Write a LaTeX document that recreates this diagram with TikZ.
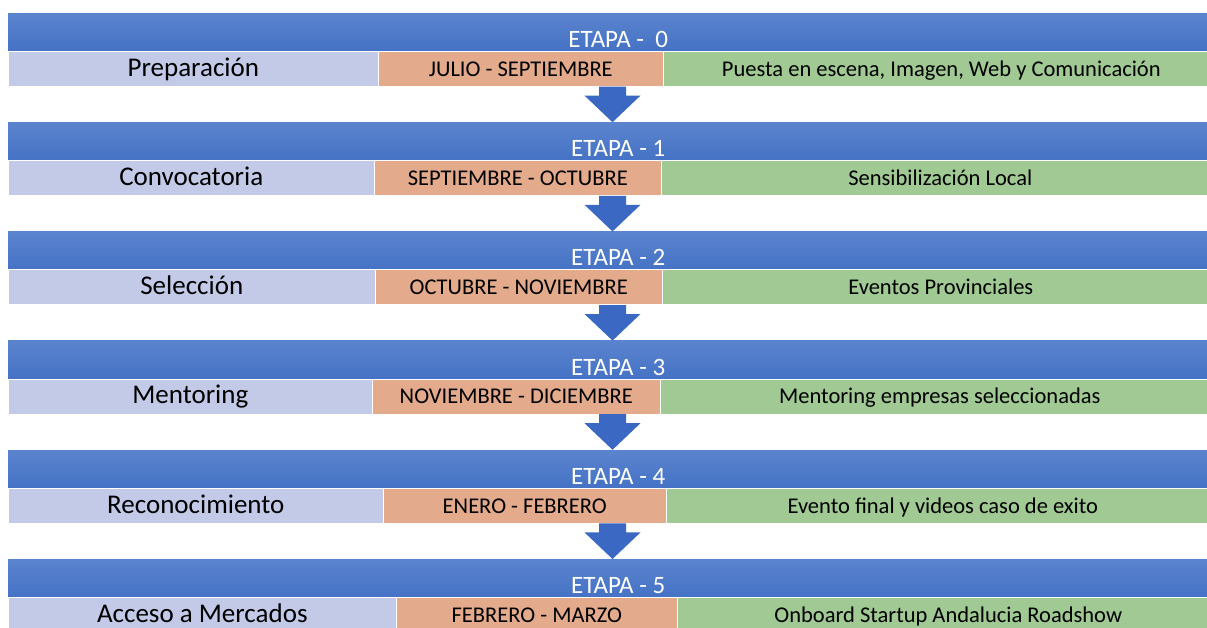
\documentclass[tikz,border=0pt]{standalone}
\usepackage{fontspec}
\setmainfont{Carlito}
\usetikzlibrary{calc}
\definecolor{barTop}{HTML}{5B84CE}
\definecolor{barBot}{HTML}{4572C5}
\definecolor{lav}{HTML}{C2CAE8}
\definecolor{ora}{HTML}{E3AB8B}
\definecolor{grn}{HTML}{A0C993}
\definecolor{arr}{HTML}{3A68C2}
\tikzset{
  bar/.style={anchor=north west, minimum width=1211pt, minimum height=38pt, inner sep=0pt,
    top color=barTop, bottom color=barBot, draw=none},
  etapatxt/.style={anchor=base, text=white, font=\fontsize{25}{28}\selectfont, inner sep=0pt},
  cell/.style={anchor=north west, minimum height=35pt, inner sep=0pt, text height=19pt, text depth=4pt,
    draw=white, line width=0.6pt},
  lavcell/.style={cell, fill=lav, font=\fontsize{27}{30}\selectfont},
  oracell/.style={cell, fill=ora, font=\fontsize{22.5}{26}\selectfont},
  grncell/.style={cell, fill=grn, font=\fontsize{22.5}{26}\selectfont},
  blockarrow/.style={fill=arr, draw=none}
}
\begin{document}
\begin{tikzpicture}[x=1pt,y=-1pt]
\useasboundingbox (0,0) rectangle (1207,627);
\def\rowA#1#2#3#4#5#6#7#8{%
  \node[bar] (b#1) at (8,#2) {};
  \node[etapatxt] (e#1) at ($(b#1.south)+(4.5,-4)$) {#5};
  \pgfmathsetmacro{\lw}{#3-8}
  \pgfmathsetmacro{\ow}{#4-#3}
  \pgfmathsetmacro{\gw}{1219-#4}
  \node[lavcell, minimum width=\lw pt] (l#1) at (8,#2+38) {#6};
  \node[oracell, minimum width=\ow pt] (o#1) at (#3,#2+38) {#7};
  \node[grncell, minimum width=\gw pt] (g#1) at (#4,#2+38) {#8};
}
\rowA{0}{13}{378}{663}{ETAPA -\ \ 0}{Preparación}{JULIO - SEPTIEMBRE}{Puesta en escena, Imagen, Web y Comunicación}
\rowA{1}{122.2}{374}{661}{ETAPA - 1}{Convocatoria}{SEPTIEMBRE - OCTUBRE}{Sensibilización Local}
\rowA{2}{231.4}{375}{662}{ETAPA - 2}{Selección}{OCTUBRE - NOVIEMBRE}{Eventos Provinciales}
\rowA{3}{340.6}{372}{660}{ETAPA - 3}{Mentoring}{NOVIEMBRE - DICIEMBRE}{Mentoring empresas seleccionadas}
\rowA{4}{449.8}{383}{666}{ETAPA - 4}{Reconocimiento}{ENERO - FEBRERO}{Evento final y videos caso de exito}
\rowA{5}{559}{396}{677}{ETAPA - 5}{Acceso a Mercados}{FEBRERO - MARZO}{Onboard Startup Andalucia Roadshow}
\foreach \i/\j in {0/1,1/2,2/3,3/4,4/5}{
  \coordinate (s\i) at (612.5,0 |- o\i.south);
  \coordinate (t\i) at (s\i |- b\j.north);
  \path[blockarrow] ($(s\i)+(-13.5,0)$) -- ($(s\i)+(13.5,0)$) -- ($(s\i)+(13.5,9)$) -- ($(s\i)+(28,9)$)
     -- (t\i) -- ($(s\i)+(-28,9)$) -- ($(s\i)+(-13.5,9)$) -- cycle;
}
\end{tikzpicture}
\end{document}
